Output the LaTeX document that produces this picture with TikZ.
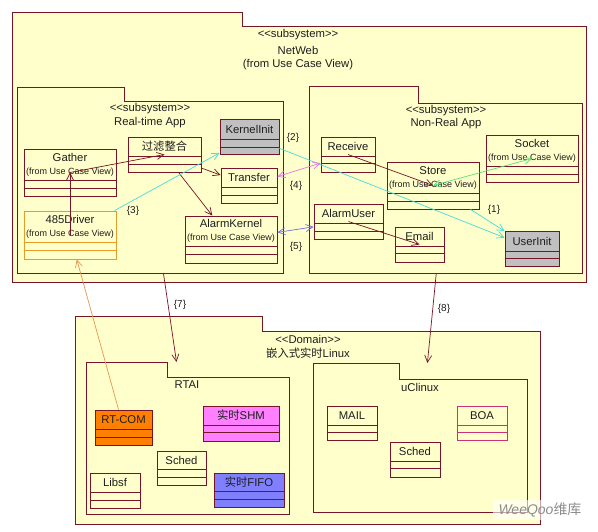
\documentclass[tikz,border=0pt]{standalone}
\usepackage{fontspec}
\setmainfont{Liberation Sans}
\newfontfamily\cjk{Noto Sans CJK SC}
\usetikzlibrary{arrows.meta,fit}
\definecolor{pkgfill}{RGB}{255,255,204}
\definecolor{bord}{RGB}{120,20,40}
\definecolor{clsgray}{RGB}{192,192,192}
\definecolor{drvorange}{RGB}{232,155,40}
\definecolor{rtorange}{RGB}{255,128,0}
\definecolor{shmpink}{RGB}{255,128,255}
\definecolor{fifoblue}{RGB}{128,128,255}
\definecolor{boapink}{RGB}{200,50,120}
\definecolor{cyanl}{RGB}{70,220,220}
\definecolor{pinkl}{RGB}{225,120,225}
\definecolor{bluel}{RGB}{110,110,220}
\definecolor{greenl}{RGB}{80,225,120}
\definecolor{orangel}{RGB}{235,150,80}
\definecolor{txt}{RGB}{30,30,30}
\newcommand{\fromuc}{{\fontsize{9}{10}\selectfont (from Use Case View)}}
\newcommand{\umlclass}[9]{%
  \node[cbox,#2,fit={(#3,#4)(#5,#6)}] (#1) {};
  \draw[cbox,#2,fill=none] (#3,#7) -- (#5,#7) (#3,#8) -- (#5,#8);
  \node[nm] at ({(#3+#5)/2},{(#4+#7)/2}) {#9};
}
\begin{document}
\begin{tikzpicture}[x=1pt,y=-1pt,
  pkg/.style={draw=bord, fill=pkgfill, line width=0.9pt},
  cbox/.style={draw=bord, fill=pkgfill, line width=0.9pt, inner sep=0pt},
  nm/.style={font=\fontsize{11.3}{13}\selectfont, align=center, inner sep=0pt, text=txt},
  ptxt/.style={font=\fontsize{11.3}{12}\selectfont, inner sep=0pt, text=txt},
  lbl/.style={font=\fontsize{10}{11}\selectfont, inner sep=0pt, text=txt},
  tip/.style={-{Straight Barb[length=7pt,width=7pt]}},
  dep/.style={draw=bord, line width=0.7pt, tip},
  cyanarr/.style={draw=cyanl, line width=0.7pt, tip},
  pinkarr/.style={draw=pinkl, line width=0.7pt, {Straight Barb[length=7pt,width=7pt]}-{Straight Barb[length=7pt,width=7pt]}},
  bluearr/.style={draw=bluel, line width=0.7pt, {Straight Barb[length=7pt,width=7pt]}-{Straight Barb[length=7pt,width=7pt]}},
  greenarr/.style={draw=greenl, line width=0.7pt, {Straight Barb[length=7pt,width=7pt]}-{Straight Barb[length=7pt,width=7pt]}},
  orangearr/.style={draw=orangel, line width=0.7pt, tip}]
\useasboundingbox[fill=white] (0,0) rectangle (598,532);
% packages
\draw[pkg] (12,12) -- (242,12) -- (242,26) -- (586,26) -- (586,282) -- (12,282) -- cycle;
\node[ptxt] (netweb) at (298,35) {<{}<subsystem>{}>};
\node[ptxt] at (298,50) {NetWeb};
\node[ptxt] at (298,65) {(from Use Case View)};
\draw[pkg] (17,87) -- (124,87) -- (124,101) -- (283,101) -- (283,273) -- (17,273) -- cycle;
\node[ptxt] (rtapp) at (150,109) {<{}<subsystem>{}>};
\node[ptxt] at (150,123) {Real-time App};
\draw[pkg] (309,86) -- (418,86) -- (418,103) -- (582,103) -- (582,273) -- (309,273) -- cycle;
\node[ptxt] (nrapp) at (446,111) {<{}<subsystem>{}>};
\node[ptxt] at (446,124) {Non-Real App};
\draw[pkg] (75,316) -- (262,316) -- (262,331) -- (540,331) -- (540,524) -- (75,524) -- cycle;
\node[ptxt] (domain) at (308,339) {<{}<Domain>{}>};
\node[ptxt] at (308,353) {{\cjk 嵌入式实时}Linux};
\draw[pkg] (86,362) -- (167,362) -- (167,377) -- (289,377) -- (289,514) -- (86,514) -- cycle;
\node[ptxt] (rtai) at (187,385) {RTAI};
\draw[pkg] (313,363) -- (399,363) -- (399,379) -- (527,379) -- (527,512) -- (313,512) -- cycle;
\node[ptxt] (uclinux) at (420,387) {uClinux};
\coordinate (rtappbot) at (163.4,273);
\coordinate (rtaitop) at (176.5,362);
\coordinate (nrappbot) at (436.3,273);
\coordinate (uctop) at (427.4,363);
% classes
\umlclass{kinit}{fill=clsgray}{220}{119}{279}{154}{139}{147}{KernelInit}
\umlclass{filter}{}{128}{137}{201}{172}{156}{164}{\cjk 过滤整合}
\umlclass{gather}{}{24}{149}{116}{196}{180}{188}{Gather\\\fromuc}
\umlclass{transfer}{}{221}{168}{277}{203}{187}{195}{Transfer}
\umlclass{driver}{draw=drvorange}{24}{211}{116}{259}{242}{250}{485Driver\\\fromuc}
\umlclass{akernel}{}{185}{216}{277}{263}{246}{254}{AlarmKernel\\\fromuc}
\umlclass{receive}{}{321}{137}{375}{172}{156}{163}{Receive}
\umlclass{store}{}{387}{162}{479}{209}{193}{201}{Store\\\fromuc}
\umlclass{socket}{}{486}{135}{578}{182}{166}{174}{Socket\\\fromuc}
\umlclass{auser}{}{314}{204}{383}{239}{223}{231}{AlarmUser}
\umlclass{email}{}{395}{227}{444}{262}{246}{253}{Email}
\umlclass{uinit}{fill=clsgray}{505}{231}{559}{266}{251}{258}{UserInit}
\umlclass{rtcom}{fill=rtorange}{95}{410}{152}{445}{429}{437}{RT-COM}
\umlclass{shm}{fill=shmpink}{203}{406}{279}{441}{425}{432}{{\cjk 实时}SHM}
\umlclass{schedA}{}{157}{451}{206}{485}{469}{477}{Sched}
\umlclass{libsf}{}{90}{473}{140}{508}{492}{500}{Libsf}
\umlclass{fifo}{fill=fifoblue}{214}{473}{284}{507}{491}{499}{{\cjk 实时}FIFO}
\umlclass{mail}{}{327}{406}{377}{440}{425}{432}{MAIL}
\umlclass{boa}{draw=boapink}{457}{406}{507}{440}{425}{432}{BOA}
\umlclass{schedB}{}{390}{442}{440}{477}{461}{468}{Sched}
% connectors
\draw[dep] (gather.center) -- (filter.center);
\draw[dep] (driver.center) -- (gather.center);
\draw[dep] (filter) -- (transfer);
\draw[dep] (filter) -- (akernel);
\draw[cyanarr] (driver) -- (kinit);
\draw[cyanarr] (kinit) -- (uinit);
\draw[cyanarr] (store) -- (uinit);
\draw[pinkarr] (transfer) -- (receive);
\draw[bluearr] (akernel) -- (auser);
\draw[dep] (receive.center) -- (store.center);
\draw[greenarr] (socket.center) -- (store.center);
\draw[dep] (auser.center) -- (email.center);
\draw[orangearr] (rtcom) -- (driver);
\draw[dep] (rtappbot) -- (rtaitop);
\draw[dep] (nrappbot) -- (uctop);
% labels
\node[lbl] (l1) at (494,210) {\{1\}};
\node[lbl] (l2) at (293,138) {\{2\}};
\node[lbl] (l3) at (133,211) {\{3\}};
\node[lbl] (l4) at (296,186) {\{4\}};
\node[lbl] (l5) at (296,247) {\{5\}};
\node[lbl] (l7) at (180,305) {\{7\}};
\node[lbl] (l8) at (444,309) {\{8\}};
% watermark
\node[fill=white, fill opacity=0.6, text opacity=1, text=black!45, inner sep=2pt, minimum width=94pt, minimum height=20pt, font=\fontsize{14}{16}\selectfont] (wm) at (540,510) {\textit{WeeQoo}{\cjk 维库}};
\end{tikzpicture}
\end{document}
